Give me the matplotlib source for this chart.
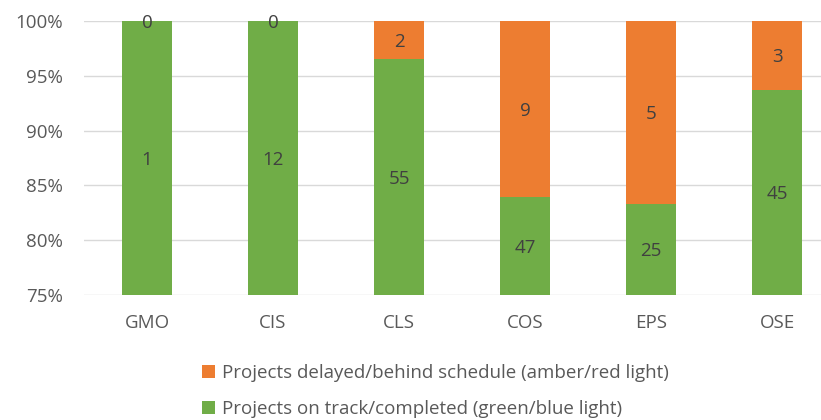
import matplotlib.pyplot as plt
import numpy as np

plt.rcParams['font.family'] = ['Open Sans', 'DejaVu Sans']

categories = ['GMO', 'CIS', 'CLS', 'COS', 'EPS', 'OSE']
on_track = [1, 12, 55, 47, 25, 45]
delayed = [0, 0, 2, 9, 5, 3]

green = '#70AD47'
orange = '#ED7D31'
text_grey = '#595959'
label_grey = '#404040'

on_track = np.array(on_track, dtype=float)
delayed = np.array(delayed, dtype=float)
total = on_track + delayed
pct_on = on_track / total * 100
pct_del = delayed / total * 100

fig = plt.figure(figsize=(8.21, 4.2), dpi=100)
ax = fig.add_axes([84 / 821, 1 - 295 / 420, (840 - 84) / 821, (295 - 21) / 420])

x = np.arange(len(categories))
ymin, ymax = 75, 100
b1 = ax.bar(x, pct_on, width=0.4, color=green, zorder=2,
            label='Projects on track/completed (green/blue light)')
b2 = ax.bar(x, pct_del, width=0.4, bottom=pct_on, color=orange, zorder=2,
            label='Projects delayed/behind schedule (amber/red light)')

ax.set_ylim(ymin, ymax)
ax.set_xlim(-0.5, len(categories) - 0.5)
ax.set_yticks(np.arange(75, 101, 5))
ax.set_yticklabels([f'{v}%' for v in range(75, 101, 5)])
ax.set_xticks(x)
ax.set_xticklabels(categories)
ax.yaxis.grid(True, color='#D9D9D9', linewidth=1, zorder=0)
ax.set_axisbelow(True)
for s in ax.spines.values():
    s.set_visible(False)
ax.tick_params(length=0, labelsize=13.5, colors=text_grey)
ax.tick_params(axis='x', pad=14)
ax.tick_params(axis='y', pad=15)

# labels at middle of the visible part of each segment
for i in range(len(categories)):
    mid_on = (ymin + min(pct_on[i], ymax)) / 2
    ax.text(x[i], mid_on, f'{int(on_track[i])}', ha='center', va='center_baseline',
            fontsize=13.5, color=label_grey, zorder=3)
    mid_del = (max(pct_on[i], ymin) + ymax) / 2
    ax.text(x[i], mid_del, f'{int(delayed[i])}', ha='center', va='center_baseline',
            fontsize=13.5, color=label_grey, zorder=3)

leg = fig.legend(handles=[b2, b1], loc='upper left', bbox_to_anchor=(185 / 821, 1 - 347 / 420),
                 ncol=1, frameon=False, fontsize=13.5, labelcolor=text_grey,
                 handlelength=0.7, handleheight=0.7, handletextpad=0.35, labelspacing=0.95)

fig.savefig('out.png', dpi=100)
